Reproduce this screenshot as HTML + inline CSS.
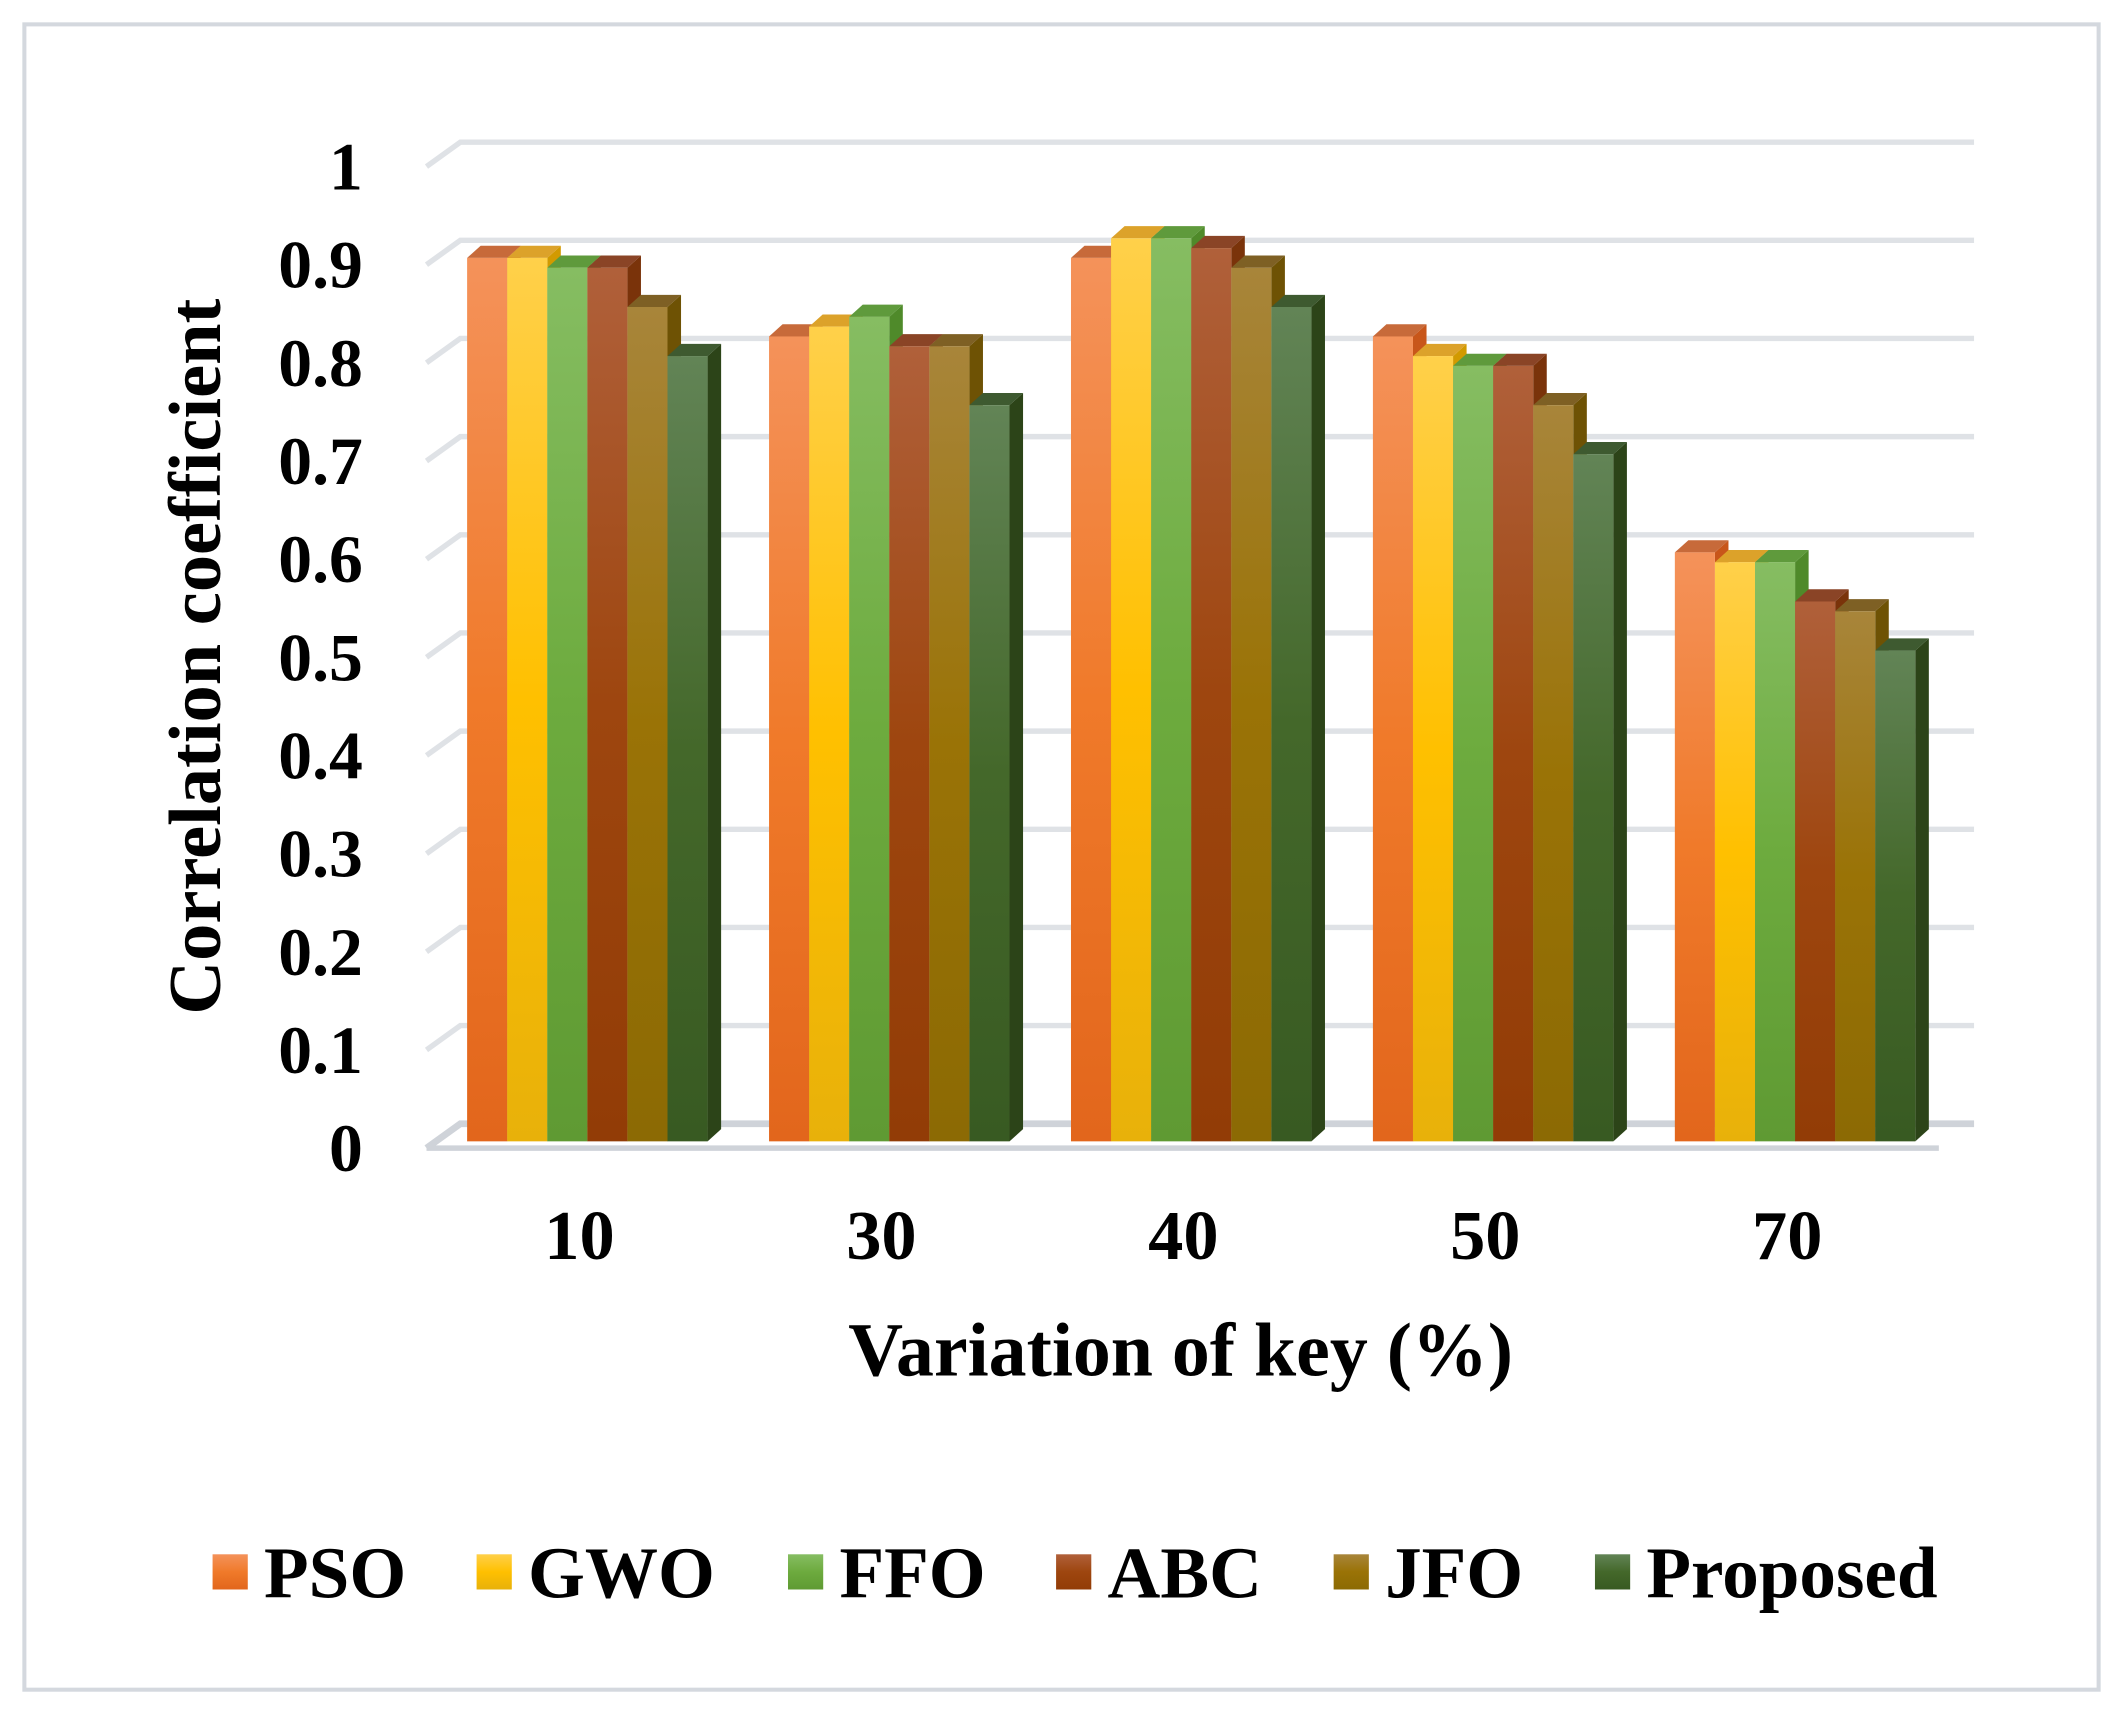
<!DOCTYPE html>
<html><head><meta charset="utf-8"><style>
html,body{margin:0;padding:0;background:#fff}
svg{display:block}
text{font-family:"Liberation Serif",serif;font-weight:bold;fill:#000}
</style></head><body>
<svg id="s" width="2123" height="1715" viewBox="0 0 1568 1266.7" preserveAspectRatio="none" xmlns="http://www.w3.org/2000/svg">
<defs>
<linearGradient id="g0" x1="0" y1="0" x2="0" y2="1"><stop offset="0" stop-color="#f4925a"/><stop offset="0.5" stop-color="#f07a2a"/><stop offset="1" stop-color="#e2661c"/></linearGradient>
<linearGradient id="g1" x1="0" y1="0" x2="0" y2="1"><stop offset="0" stop-color="#ffd04a"/><stop offset="0.5" stop-color="#ffc000"/><stop offset="1" stop-color="#e8b10a"/></linearGradient>
<linearGradient id="g2" x1="0" y1="0" x2="0" y2="1"><stop offset="0" stop-color="#86bd62"/><stop offset="0.5" stop-color="#6dab3e"/><stop offset="1" stop-color="#5f9a33"/></linearGradient>
<linearGradient id="g3" x1="0" y1="0" x2="0" y2="1"><stop offset="0" stop-color="#b0603a"/><stop offset="0.5" stop-color="#9e460f"/><stop offset="1" stop-color="#923c06"/></linearGradient>
<linearGradient id="g4" x1="0" y1="0" x2="0" y2="1"><stop offset="0" stop-color="#a8853a"/><stop offset="0.5" stop-color="#9a7306"/><stop offset="1" stop-color="#8c6a04"/></linearGradient>
<linearGradient id="g5" x1="0" y1="0" x2="0" y2="1"><stop offset="0" stop-color="#628456"/><stop offset="0.5" stop-color="#44682a"/><stop offset="1" stop-color="#385a22"/></linearGradient>
</defs>
<rect x="18" y="18" width="1532" height="1230" fill="#fff" stroke="#d4d8de" stroke-width="3"/>
<g id="grid"></g>
<g id="bars"></g>
<g id="labels"></g>
<text x="150" y="485" font-size="55" text-anchor="middle" transform="rotate(-90 150 485)" dominant-baseline="middle">Correlation coefficient</text>
<text x="872" y="1016" font-size="56" text-anchor="middle">Variation of key (%)</text>
<g font-size="54">
<rect x="157" y="1148" width="26" height="26" fill="url(#g0)"/><text x="195" y="1180">PSO</text>
<rect x="352" y="1148" width="26" height="26" fill="url(#g1)"/><text x="390" y="1180">GWO</text>
<rect x="582" y="1148" width="26" height="26" fill="url(#g2)"/><text x="620" y="1180">FFO</text>
<rect x="780" y="1148" width="26" height="26" fill="url(#g3)"/><text x="818" y="1180">ABC</text>
<rect x="985" y="1148" width="26" height="26" fill="url(#g4)"/><text x="1023" y="1180">JFO</text>
<rect x="1178" y="1148" width="26" height="26" fill="url(#g5)"/><text x="1216" y="1180">Proposed</text>
</g>
</svg>
<script>
const NS="http://www.w3.org/2000/svg";
function el(p,t,a,txt){const e=document.createElementNS(NS,t);for(const k in a)e.setAttribute(k,a[k]);if(txt!==undefined)e.textContent=txt;document.getElementById(p).appendChild(e);return e;}
for(let i=0;i<=10;i++){const v=i/10;const yb=830-v*725;const yf=yb+18;
 el("grid","polyline",{points:`315,${yf} 340,${yb} 1458,${yb}`,fill:"none",stroke:i==0?"#cfd3d9":"#dfe2e6","stroke-width":i==0?5:4});
 el("labels","text",{x:268,y:yf+17,"font-size":50,"text-anchor":"end"},i==0?"0":i==10?"1":v.toFixed(1));
}
el("grid","line",{x1:315,y1:848,x2:1432,y2:848,stroke:"#cfd3d9","stroke-width":4});
const vals=[[0.9,0.9,0.89,0.89,0.85,0.8],[0.82,0.83,0.84,0.81,0.81,0.75],[0.9,0.92,0.92,0.91,0.89,0.85],[0.82,0.80,0.79,0.79,0.75,0.70],[0.60,0.59,0.59,0.55,0.54,0.50]];
const side=["#c8561a","#d29a00","#4f8a2a","#7a330a","#6e5204","#2c4418"];
const topc=["#c76a3a","#dca22a","#5f9a3c","#8a4426","#7e6024","#3e5a30"];
const xl=["10","30","40","50","70"];
const w=29.6,dx=10,dy=9;
for(let g=0;g<5;g++){const x0=345+g*223;
 for(let b=0;b<6;b++){const x=x0+b*w,v=vals[g][b];const yt=843-v*725,yb=843;
  el("bars","polygon",{points:`${x+w},${yt} ${x+w+dx},${yt-dy} ${x+w+dx},${yb-dy} ${x+w},${yb}`,fill:side[b]});
  el("bars","polygon",{points:`${x},${yt} ${x+dx},${yt-dy} ${x+w+dx},${yt-dy} ${x+w},${yt}`,fill:topc[b]});
  el("bars","rect",{x:x,y:yt,width:w,height:yb-yt,fill:`url(#g${b})`});
 }
 el("labels","text",{x:x0+83,y:930,"font-size":52,"text-anchor":"middle"},xl[g]);
}
</script>
</body></html>
